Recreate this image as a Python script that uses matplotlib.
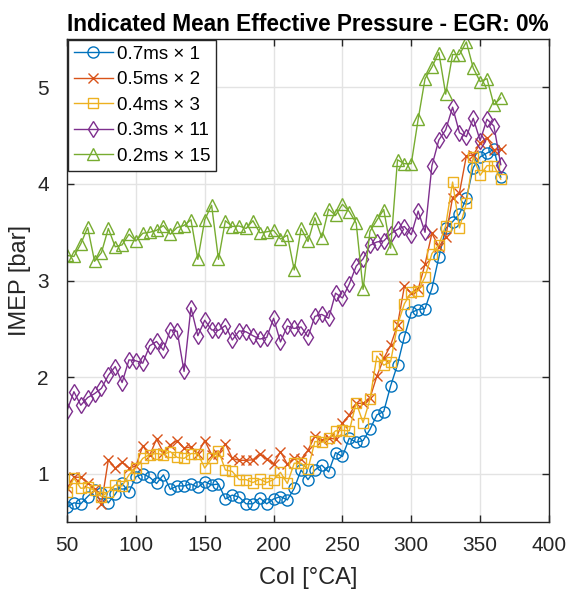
import matplotlib
matplotlib.use("Agg")
import matplotlib.pyplot as plt
import numpy as np

plt.rcParams['font.family'] = ['Liberation Sans', 'DejaVu Sans']

coi = list(range(50, 366, 5))

imep_07x1 = [0.655, 0.70, 0.69, 0.765, 0.83, 0.80, 0.70, 0.79, 0.90, 0.81,
             0.97, 1.00, 0.965, 0.90, 0.99, 0.84, 0.875, 0.875, 0.895, 0.86,
             0.92, 0.885, 0.895, 0.74, 0.78, 0.76, 0.69, 0.69, 0.75, 0.69,
             0.74, 0.765, 0.73, 0.85, 1.04, 0.94, 1.04, 1.09, 1.02, 1.22,
             1.18, 1.37, 1.325, 1.345, 1.46, 1.61, 1.645, 1.91, 2.13, 2.42,
             2.67, 2.70, 2.71, 2.92, 3.24, 3.54, 3.61, 3.69, 3.85, 4.17,
             4.28, 4.32, 4.36, 4.07]

imep_05x2 = [0.85, 0.965, 0.965, 0.91, 0.84, 0.69, 1.145, 1.06, 1.12, 1.06,
             1.08, 1.29, 1.19, 1.36, 1.22, 1.30, 1.345, 1.265, 1.28, 1.21,
             1.345, 1.20, 1.21, 1.31, 1.16, 1.14, 1.14, 1.145, 1.21, 1.15,
             1.10, 1.23, 1.10, 1.165, 1.15, 1.245, 1.39, 1.35, 1.37, 1.36,
             1.525, 1.61, 1.73, 1.73, 1.785, 2.01, 2.195, 2.33, 2.54, 2.94,
             2.87, 2.91, 3.17, 3.49, 3.35, 3.45, 3.86, 3.91, 4.29, 4.30,
             4.42, 4.48, 4.35, 4.36]

imep_04x3 = [0.81, 0.955, 0.85, 0.86, 0.83, 0.765, 0.815, 0.885, 0.875, 0.99,
             1.06, 1.16, 1.20, 1.21, 1.20, 1.23, 1.17, 1.16, 1.21, 1.21,
             1.06, 1.16, 1.24, 1.04, 1.025, 0.94, 0.94, 0.91, 0.945, 0.91,
             0.94, 1.015, 0.90, 1.11, 1.11, 1.05, 1.335, 1.325, 1.37, 1.445,
             1.45, 1.445, 1.735, 1.53, 1.77, 2.22, 2.125, 2.16, 2.54, 2.76,
             2.88, 2.895, 3.04, 3.28, 3.37, 3.57, 4.02, 3.545, 3.80, 4.28,
             4.09, 4.19, 4.19, 4.05]

imep_03x11 = [1.655, 1.85, 1.71, 1.79, 1.83, 1.885, 2.02, 2.11, 1.945, 2.18,
              2.17, 2.145, 2.325, 2.37, 2.28, 2.49, 2.475, 2.06, 2.72, 2.43,
              2.59, 2.49, 2.485, 2.535, 2.385, 2.48, 2.47, 2.43, 2.395, 2.41,
              2.61, 2.365, 2.53, 2.505, 2.52, 2.42, 2.63, 2.65, 2.61, 2.87,
              2.82, 2.965, 3.15, 3.225, 3.365, 3.40, 3.41, 3.485, 3.53, 3.56,
              3.475, 3.72, 3.50, 4.19, 4.455, 4.56, 4.795, 4.53, 4.49, 4.68,
              4.45, 4.67, 4.60, 4.20]

imep_02x15 = [3.26, 3.25, 3.38, 3.55, 3.20, 3.29, 3.54, 3.35, 3.37, 3.48,
              3.41, 3.49, 3.50, 3.52, 3.57, 3.48, 3.55, 3.57, 3.63, 3.22,
              3.63, 3.78, 3.22, 3.62, 3.56, 3.565, 3.54, 3.62, 3.495, 3.505,
              3.52, 3.43, 3.47, 3.11, 3.54, 3.405, 3.65, 3.445, 3.74, 3.675,
              3.79, 3.715, 3.595, 2.91, 3.51, 3.625, 3.735, 3.335, 4.25, 4.21,
              4.21, 4.67, 5.09, 5.21, 5.36, 4.93, 5.34, 5.34, 5.47, 5.20,
              5.06, 5.09, 4.82, 4.89]

labels = ['0.7ms \u00d7 1', '0.5ms \u00d7 2', '0.4ms \u00d7 3', '0.3ms \u00d7 11', '0.2ms \u00d7 15']
series = [imep_07x1, imep_05x2, imep_04x3, imep_03x11, imep_02x15]
colors = ['#0072BD', '#D95319', '#EDB120', '#7E2F8E', '#77AC30']
markers = ['o', 'x', 's', 'd', '^']
msizes = [8, 6.5, 6.5, 8.5, 9]

xticks = [50, 100, 150, 200, 250, 300, 350, 400]
yticks = [1, 2, 3, 4, 5]

fig = plt.figure(figsize=(5.68, 5.92), dpi=100)
ax = fig.add_axes([0.118, 0.118, 0.8485, 0.816])

for y, lab, c, m, ms in zip(series, labels, colors, markers, msizes):
    ax.plot(coi, y, color=c, marker=m, markersize=ms, markerfacecolor='none',
            markeredgecolor=c, markeredgewidth=1.0, linewidth=1.0, label=lab)

ax.set_xlim(50, 400)
ax.set_ylim(0.5, 5.5)
ax.set_xticks(xticks)
ax.set_yticks(yticks)
ax.grid(True, color='#e3e3e3', linewidth=1.0)
ax.set_axisbelow(True)
for s in ax.spines.values():
    s.set_color('#262626')
    s.set_linewidth(1.0)
ax.tick_params(direction='in', top=True, right=True, length=5, width=1.0,
               colors='#262626', labelsize=15)
ax.tick_params(axis='x', pad=10)
ax.tick_params(axis='y', pad=13)

ax.set_xlabel('CoI [\u00b0CA]', fontsize=17, color='#262626')
ax.set_ylabel('IMEP [bar]', fontsize=17, color='#262626')
ax.xaxis.set_label_coords(0.5, -0.093)
ax.yaxis.set_label_coords(-0.075, 0.5)
ax.set_title('Indicated Mean Effective Pressure - EGR: 0%', fontsize=16.3,
             fontweight='bold', color='#000000', pad=6)

leg = ax.legend(loc='upper left', fontsize=13.5, frameon=True, fancybox=False,
                edgecolor='#262626', framealpha=1.0, borderaxespad=0.05,
                handlelength=2.1, handletextpad=0.2, labelspacing=0.45,
                borderpad=0.3)
leg.get_frame().set_linewidth(1.0)

fig.savefig('out.png', dpi=100)
